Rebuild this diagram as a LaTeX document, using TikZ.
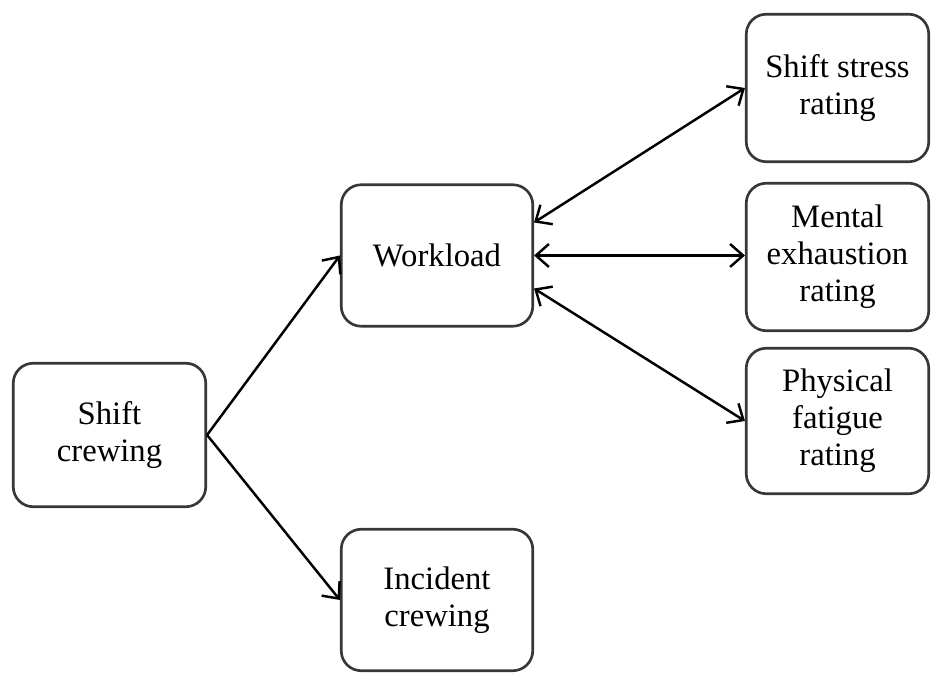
\documentclass[tikz,border=0pt]{standalone}
\usepackage{fontspec}
\setmainfont{Liberation Serif}
\usetikzlibrary{arrows.meta}
\definecolor{boxline}{RGB}{55,55,55}
\tikzstyle{block}=[rectangle,rounded corners=0.4cm,draw=boxline,line width=1.5pt,align=center,font=\fontsize{18.6}{21}\selectfont,fill=white]
\tikzstyle{link}=[{Straight Barb[length=2.6mm,width=4.6mm]}-{Straight Barb[length=2.6mm,width=4.6mm]},line width=1.4pt]

\begin{document}
\begin{tikzpicture}[]
\useasboundingbox (0,0) rectangle (18.62,13.46);
\node (shift) at (2.19,4.76) [block,minimum width=3.85cm,minimum height=2.87cm]    {Shift\\crewing};
\node (work) at (8.74,8.35) [block,minimum width=3.83cm,minimum height=2.83cm]     {Workload};
\node (inc) at (8.74,1.46) [block,minimum width=3.83cm,minimum height=2.83cm]      {Incident\\crewing};
\node (stress) at (16.75,11.70) [block,minimum width=3.65cm,minimum height=2.95cm] {Shift stress\\rating};
\node (mental) at (16.75,8.32) [block,minimum width=3.65cm,minimum height=2.95cm]  {Mental\\exhaustion\\rating};
\node (phys) at (16.75,5.04) [block,minimum width=3.65cm,minimum height=2.91cm]    {Physical\\fatigue\\rating};

\draw[-{Straight Barb[length=2.6mm,width=4.6mm]}, line width=1.4pt] (shift.east) -- (work.west);
\draw[-{Straight Barb[length=2.6mm,width=4.6mm]}, line width=1.4pt] (shift.east) -- (inc.west);

\draw[link] ([yshift=0.66cm]work.east) -- (stress.west);
\draw[link] (work.east) -- (work.east -| mental.west);
\draw[link] ([yshift=-0.66cm]work.east) -- (phys.west);
\end{tikzpicture}
\end{document}
